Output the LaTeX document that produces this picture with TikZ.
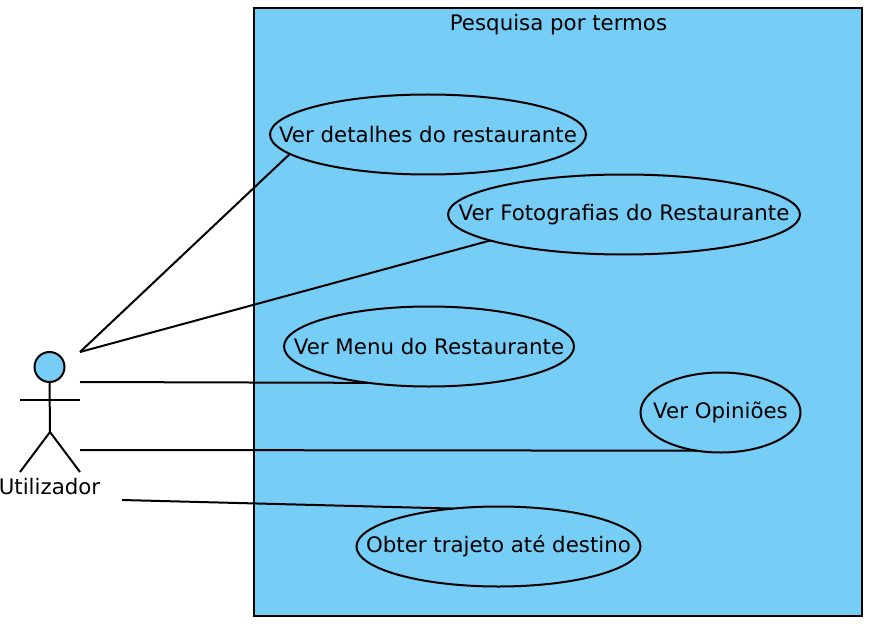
\documentclass[tikz,border=0pt]{standalone}
\usepackage{fontspec}
\setmainfont{DejaVu Sans}
\usetikzlibrary{shapes.geometric}
\definecolor{fillblue}{HTML}{76CDF6}
\newcommand{\cased}[1]{\raisebox{-0.75pt}{\makebox[0pt][c]{#1}}}
\tikzset{
  px/.style={x=0.75pt,y=-0.75pt},
  ln/.style={draw=black,line width=1.5pt},
  usecase/.style={ellipse,ln,fill=fillblue,inner sep=0pt,outer sep=0pt,font=\fontsize{16.0pt}{18pt}\selectfont},
  lab/.style={font=\fontsize{16.0pt}{18pt}\selectfont,inner sep=0pt,text=black}
}
\begin{document}
\begin{tikzpicture}[px]
\useasboundingbox (0,0) rectangle (874,638);
\fill[white] (0,0) rectangle (874,638);
\node[ln,fill=fillblue,minimum width=608*0.75pt,minimum height=607*0.75pt,inner sep=0pt,outer sep=0pt,anchor=north west] (sys) at (254,8.5) {};
\node[lab] (title) at (558.5,24.5) {Pesquisa por termos};
\coordinate (a1) at (80,352);
\coordinate (a2) at (80,382);
\coordinate (a3) at (80,450);
\coordinate (a4) at (122,500);
\node[usecase,minimum width=316*0.75pt,minimum height=80*0.75pt] (u1) at (428,134.5) {\cased{Ver detalhes do restaurante}};
\node[usecase,minimum width=352*0.75pt,minimum height=80*0.75pt] (u2) at (624,214.5) {\cased{Ver Fotografias do Restaurante}};
\node[usecase,minimum width=290*0.75pt,minimum height=80*0.75pt] (u3) at (429,346.5) {\cased{Ver Menu do Restaurante}};
\node[usecase,minimum width=160*0.75pt,minimum height=80*0.75pt] (u4) at (720.5,412.5) {\cased{Ver Opiniões}};
\node[usecase,minimum width=284*0.75pt,minimum height=80*0.75pt] (u5) at (498.5,546.5) {\cased{Obter trajeto até destino}};
\draw[ln] (a1) -- (u1.188.1);
\draw[ln] (a1) -- (u2.191.9);
\draw[ln] (a2) -- (u3.211.4);
\draw[ln] (a3) -- (u4.238.3);
\draw[ln] (a4) -- (u5.140.7);
\node[ln,circle,fill=fillblue,minimum size=30*0.75pt,inner sep=0pt,outer sep=0pt] (head) at (49.5,367) {};
\coordinate (hip) at (50,432);
\coordinate (armL) at (20,399.5);
\coordinate (armR) at (80,399.5);
\coordinate (footL) at (20,472);
\coordinate (footR) at (80,472);
\draw[ln] (head.south) -- (hip);
\draw[ln] (armL) -- (armR);
\draw[ln] (footL) -- (hip) -- (footR);
\node[lab] (actor) at (49.5,487) {Utilizador};
\end{tikzpicture}
\end{document}
